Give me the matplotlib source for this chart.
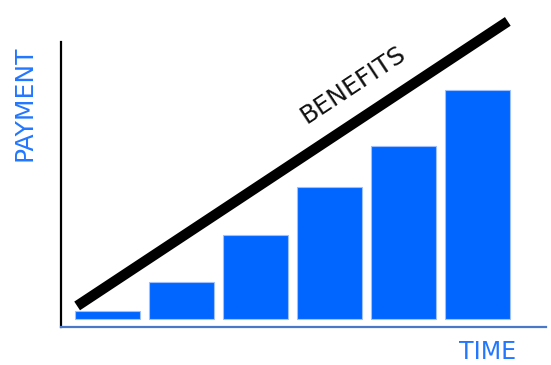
import matplotlib
matplotlib.use('Agg')
import matplotlib.pyplot as plt

# payment per period (arbitrary units)
periods = [0, 1, 2, 3, 4, 5]
payments = [0.35, 1.6, 3.65, 5.75, 7.55, 10.0]

# benefits line end points
benefits_x = [-0.41, 5.41]
benefits_y = [0.57, 13.0]

bar_blue = '#0066ff'
text_blue = '#2277ff'

fig = plt.figure(figsize=(5.51, 3.65), dpi=100)
ax = fig.add_axes([0.1107, 0.1041, 0.8802, 0.7808])

ax.bar(periods, payments, width=0.89, color=bar_blue, edgecolor='#9fc0ff', linewidth=0.8)
ax.plot(benefits_x, benefits_y, color='black', linewidth=7.5, solid_capstyle='butt', clip_on=False)

ax.text(3.32, 10.25, 'BENEFITS', rotation=33.5, rotation_mode='anchor',
        ha='center', va='center', fontsize=18, color='#111111')

ax.set_xlim(-0.628, 5.926)
ax.set_ylim(-0.35, 12.1)
ax.set_xticks([])
ax.set_yticks([])
ax.spines['top'].set_visible(False)
ax.spines['right'].set_visible(False)
ax.spines['left'].set_color('black')
ax.spines['left'].set_linewidth(1.6)
ax.spines['bottom'].set_color('#4a78c8')
ax.spines['bottom'].set_linewidth(1.6)

fig.text(25 / 551, 1 - 103 / 365, 'PAYMENT', rotation=90, ha='center', va='center',
         fontsize=18, color=text_blue)
fig.text(487.5 / 551, 1 - 352 / 365, 'TIME', ha='center', va='center',
         fontsize=17, color=text_blue)

fig.savefig('out.png', dpi=100)
